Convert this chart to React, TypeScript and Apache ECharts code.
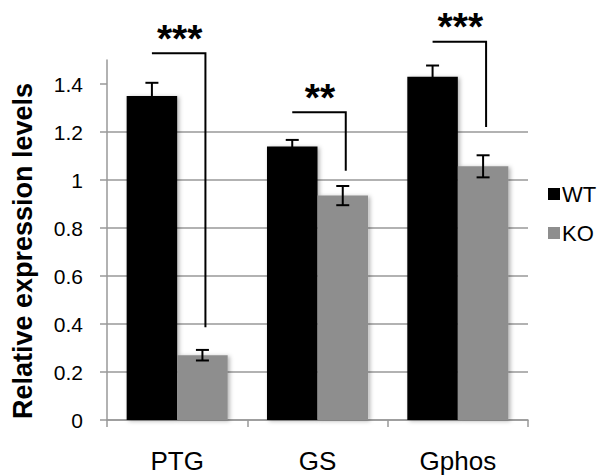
import React, { useEffect, useRef } from "react";
import * as echarts from "echarts";

const categories = ["PTG", "GS", "Gphos"];
const wtValues = [1.35, 1.14, 1.43];
const wtErrors = [0.055, 0.027, 0.047];
const koValues = [0.27, 0.935, 1.057];
const koErrors = [0.022, 0.04, 0.046];
const yTickValues = [0, 0.2, 0.4, 0.6, 0.8, 1, 1.2, 1.4];
// significance brackets: [category index, top value, bottom value]
const bracketTops = [1.528, 1.282, 1.576];
const bracketBottoms = [0.386, 1.039, 1.221];
const bracketLabels = ["***", "**", "***"];

const FONT = 'Arial, "Liberation Sans", Helvetica, sans-serif';
const HALF = 0.18; // half of bar width as fraction of category band

export default function App() {
  const ref = useRef<HTMLDivElement>(null);
  useEffect(() => {
    if (!ref.current) return;
    const chart = echarts.init(ref.current, null, { renderer: "svg" });

    const errorSeries = (name: string, vals: number[], errs: number[], side: number) => ({
      type: "custom",
      name,
      z: 5,
      clip: false,
      data: vals.map((v, i) => [i, v, errs[i]]),
      renderItem: (params: any, api: any) => {
        const idx = api.value(0);
        const v = api.value(1);
        const e = api.value(2);
        const band = api.size([1, 0])[0];
        const c = api.coord([idx, v]);
        const x = c[0] + side * band * HALF;
        const yt = api.coord([idx, v + e])[1];
        const yb = api.coord([idx, v - e])[1];
        const hw = 6.5;
        const st = { stroke: "#000", lineWidth: 2 };
        return {
          type: "group",
          children: [
            { type: "line", shape: { x1: x, y1: yt, x2: x, y2: yb }, style: st },
            { type: "line", shape: { x1: x - hw, y1: yt, x2: x + hw, y2: yt }, style: st },
            { type: "line", shape: { x1: x - hw, y1: yb, x2: x + hw, y2: yb }, style: st },
          ],
        };
      },
    });

    chart.setOption({
      animation: false,
      grid: { left: 107, right: 73, top: 60, bottom: 56 },
      legend: {
        data: ["WT", "KO"],
        orient: "vertical",
        left: 543,
        top: 178,
        icon: "rect",
        itemWidth: 12,
        itemHeight: 12,
        itemGap: 17,
        textStyle: { fontFamily: FONT, fontSize: 22, color: "#000", padding: [0, 0, 0, -3] },
      },
      graphic: [
        {
          type: "text",
          x: 23,
          y: 251,
          rotation: Math.PI / 2,
          style: {
            text: "Relative expression levels",
            fontFamily: FONT,
            fontSize: 27,
            fontWeight: "bold",
            fill: "#000",
            align: "center",
            verticalAlign: "middle",
          },
        },
      ],
      xAxis: {
        type: "category",
        data: categories,
        axisLine: { lineStyle: { color: "#999", width: 1.5 } },
        axisTick: { show: true, alignWithLabel: false, length: 7, lineStyle: { color: "#999", width: 1.5 } },
        axisLabel: { fontFamily: FONT, fontSize: 26, color: "#000", margin: 28 },
        splitLine: { show: false },
      },
      yAxis: {
        type: "value",
        min: 0,
        max: 1.5,
        interval: 0.2,
        axisLine: { show: true, lineStyle: { color: "#999", width: 1.5 } },
        axisTick: { show: true, length: 7, customValues: yTickValues, lineStyle: { color: "#999", width: 1.5 } },
        axisLabel: {
          fontFamily: FONT,
          fontSize: 21,
          color: "#000",
          margin: 24,
          customValues: yTickValues,
          formatter: (v: number) => String(Math.round(v * 10) / 10),
        },
        splitLine: { show: true, showMaxLine: false, lineStyle: { color: "#999", width: 1.5 } },
      },
      series: [
        {
          type: "bar",
          name: "WT",
          data: wtValues,
          barWidth: "36%",
          barGap: "0%",
          itemStyle: {
            color: "#000",
            shadowColor: "rgba(0,0,0,0.3)",
            shadowBlur: 4,
            shadowOffsetX: 2,
            shadowOffsetY: 1,
          },
        },
        {
          type: "bar",
          name: "KO",
          data: koValues,
          barWidth: "36%",
          barGap: "0%",
          itemStyle: {
            color: "#8e8e8e",
            shadowColor: "rgba(0,0,0,0.3)",
            shadowBlur: 4,
            shadowOffsetX: 2,
            shadowOffsetY: 1,
          },
        },
        errorSeries("WT err", wtValues, wtErrors, -1),
        errorSeries("KO err", koValues, koErrors, 1),
        {
          type: "custom",
          name: "sig",
          z: 6,
          clip: false,
          data: bracketTops.map((t, i) => [i, t, bracketBottoms[i]]),
          renderItem: (params: any, api: any) => {
            const idx = api.value(0);
            const band = api.size([1, 0])[0];
            const c = api.coord([idx, api.value(1)]);
            const x1 = c[0] - band * HALF;
            const x2 = c[0] + band * HALF + 3;
            const yt = c[1];
            const yb = api.coord([idx, api.value(2)])[1];
            return {
              type: "group",
              children: [
                {
                  type: "polyline",
                  shape: { points: [[x1, yt], [x2, yt], [x2, yb]] },
                  style: { stroke: "#000", lineWidth: 2, fill: null },
                },
                {
                  type: "text",
                  x: (x1 + x2) / 2 + 1,
                  y: yt - 15,
                  style: {
                    text: bracketLabels[params.dataIndex],
                    fontFamily: FONT,
                    fontSize: 39,
                    fontWeight: "bold",
                    fill: "#000",
                    align: "center",
                    verticalAlign: "middle",
                  },
                },
              ],
            };
          },
        },
      ],
    });
    return () => chart.dispose();
  }, []);
  return (
    <div
      ref={ref}
      style={{ position: "fixed", left: 0, top: 0, width: 601, height: 476, background: "#fff" }}
    />
  );
}
